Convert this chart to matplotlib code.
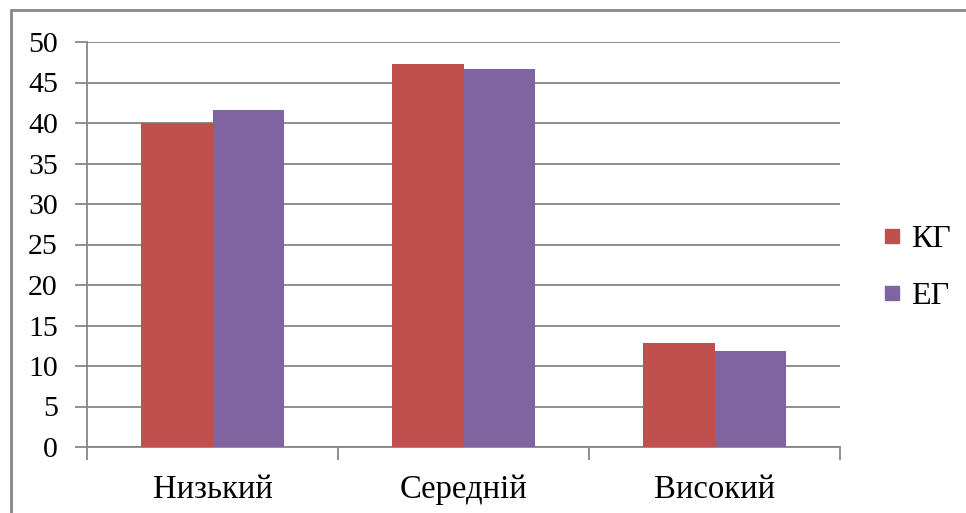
import numpy as np
import matplotlib
matplotlib.use("Agg")
import matplotlib.pyplot as plt
from matplotlib.patches import Rectangle

# data
categories = ["Низький", "Середній", "Високий"]
kg = [40.0, 47.3, 12.8]
eg = [41.6, 46.7, 11.85]
series_names = ["КГ", "ЕГ"]
colors = ["#C0504D", "#8064A2"]
grid_col = "#868686"

plt.rcParams['font.family'] = ['Liberation Serif', 'DejaVu Serif']

fig = plt.figure(figsize=(9.66, 5.13), dpi=100)
ax = fig.add_axes([87/966, 66/513, (840-87)/966, (447-42)/513])

x = np.arange(len(categories))
w = 0.2857
ax.bar(x - w/2, kg, w, color=colors[0], label=series_names[0], zorder=3)
ax.bar(x + w/2, eg, w, color=colors[1], label=series_names[1], zorder=3)

ax.set_xlim(-0.5, 2.5)
ax.set_ylim(0, 50)
ax.set_yticks(np.arange(0, 51, 5))
ax.yaxis.grid(True, color=grid_col, linewidth=1.3, zorder=0)
ax.set_axisbelow(True)

ax.set_xticks(x)
ax.set_xticklabels(categories, fontsize=23.5)
ax.set_xticks([-0.5, 0.5, 1.5, 2.5], minor=True)
ax.tick_params(axis='x', which='major', length=0, pad=20)
ax.tick_params(axis='x', which='minor', length=9, width=1.3, color=grid_col)
ax.tick_params(axis='y', length=9, width=1.3, color=grid_col, labelsize=21.5, pad=12)

for s in ['top', 'right']:
    ax.spines[s].set_visible(False)
for s in ['left', 'bottom']:
    ax.spines[s].set_color(grid_col)
    ax.spines[s].set_linewidth(1.3)

# legend on the right
handles = [plt.Line2D([], [], marker='s', linestyle='', markersize=10.5, color=c) for c in colors]
fig.legend(handles, series_names, loc='center left', bbox_to_anchor=(847/966, 1 - 268/513),
           frameon=False, fontsize=23, handletextpad=0.1, labelspacing=0.85, handlelength=1.0)

# outer frame of the chart
fig.patches.append(Rectangle((11/966, -0.05), 1.2, 1 - 10/513 + 0.05, transform=fig.transFigure,
                             fill=False, edgecolor=grid_col, linewidth=2))

fig.savefig("out.png", dpi=100)
